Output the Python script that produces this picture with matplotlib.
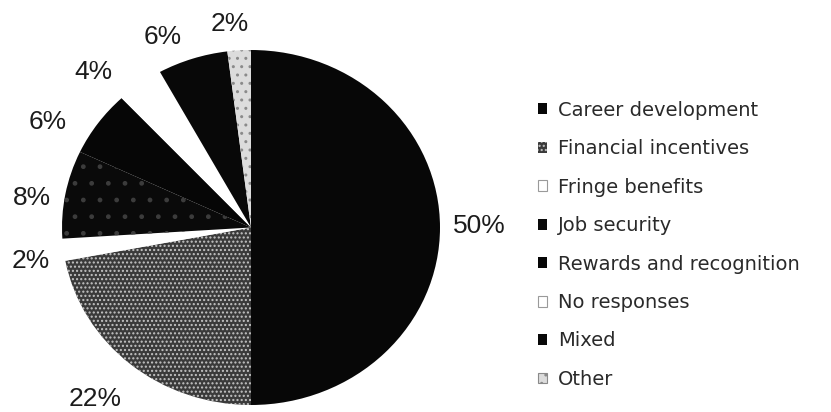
import matplotlib
matplotlib.use("Agg")
import matplotlib.pyplot as plt
from matplotlib.patches import Patch
import numpy as np

# Reasons given by respondents (share of responses, %)
categories = ["Career development", "Financial incentives", "Fringe benefits",
              "Job security", "Rewards and recognition", "No responses",
              "Mixed", "Other"]
shares = [50, 22, 2, 8, 6, 4, 6, 2]

# fill style per wedge: (face, hatch, hatch colour)
styles = [
    ("#070707", None, None),
    ("#3a3a3a", "....", "#c4c4c4"),
    ("#ffffff", None, None),
    ("#0a0a0a", ".", "#3c3c3c"),
    ("#060606", None, None),
    ("#ffffff", None, None),
    ("#080808", None, None),
    ("#dcdcdc", "..", "#8a8a8a"),
]

# small angular nudges (degrees) for the percentage labels
label_nudge = [0.5, -1, 2, 2.5, 7, 7.5, 5.5, 2]
label_radius = [1.21, 1.27, 1.18, 1.17, 1.23, 1.21, 1.17, 1.15]

plt.rcParams["font.family"] = ["Liberation Sans", "DejaVu Sans"]

fig = plt.figure(figsize=(8.31, 4.12), dpi=100)
ax = fig.add_axes([62 / 831, 7 / 412, 378 / 831, 355 / 412])

wedges, _ = ax.pie(
    shares,
    startangle=90,
    counterclock=False,
    radius=1.0,
)

for w, (fc, hatch, hc) in zip(wedges, styles):
    w.set_facecolor(fc)
    if hatch:
        w.set_edgecolor(hc)
        w.set_hatch(hatch)
    else:
        w.set_edgecolor("none")
    w.set_linewidth(0)

# percentage labels placed around each wedge's mid angle
for w, v, dth, r in zip(wedges, shares, label_nudge, label_radius):
    mid = np.deg2rad((w.theta1 + w.theta2) / 2 + dth)
    ax.text(r * np.cos(mid), r * np.sin(mid), f"{v}%",
            ha="center", va="center", fontsize=19, color="#1c1c1c")

ax.set_aspect("auto")
ax.set_xlim(-1, 1)
ax.set_ylim(-1, 1)
ax.axis("off")

handles = []
for fc, hatch, hc in styles:
    light = fc.lower() in ("#ffffff", "#dcdcdc")
    handles.append(Patch(facecolor=fc, hatch=hatch,
                         edgecolor=hc if hatch else ("#9a9a9a" if light else fc),
                         linewidth=0.8 if light else 0))

leg = fig.legend(
    handles, categories,
    loc="upper left",
    bbox_to_anchor=(530 / 831, 1 - 93 / 412),
    frameon=False,
    prop=dict(family="DejaVu Sans", size=14),
    handlelength=0.48,
    handleheight=0.48,
    handletextpad=0.55,
    labelspacing=1.0,
    borderaxespad=0,
)
for txt in leg.get_texts():
    txt.set_color("#2a2a2a")

fig.savefig("out.png", dpi=100, facecolor="white")
